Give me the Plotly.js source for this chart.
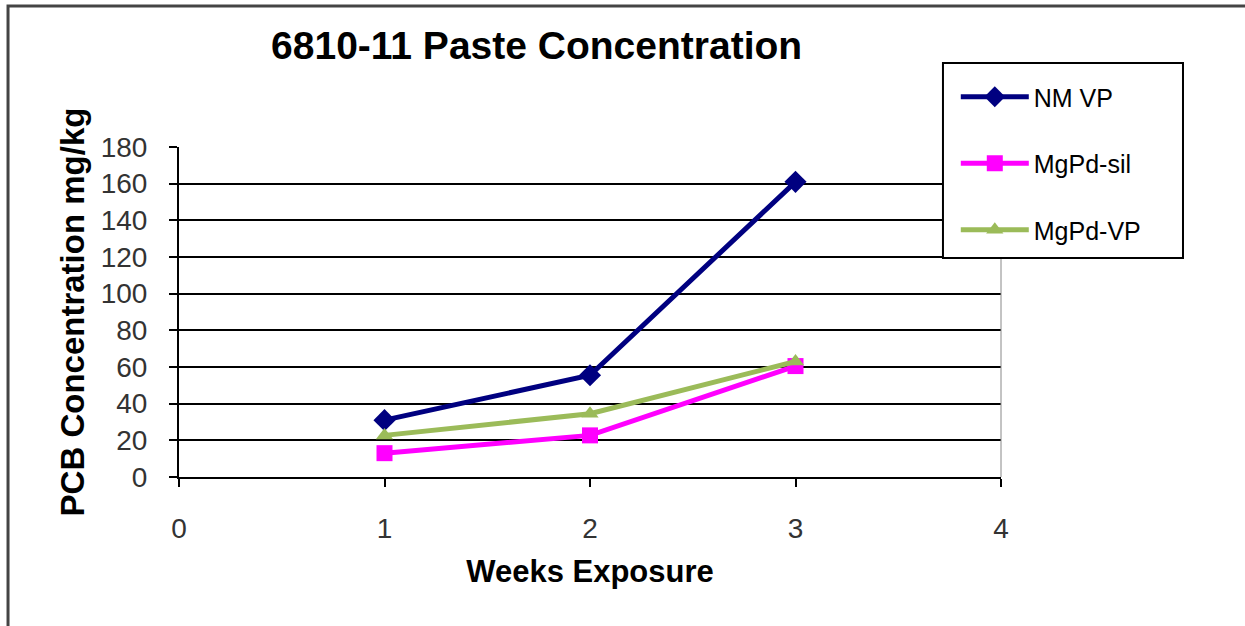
<!DOCTYPE html>
<html>
<head>
<meta charset="utf-8">
<script src="https://cdn.plot.ly/plotly-3.0.1.min.js"></script>
<style>
html,body{margin:0;padding:0;background:#fff;}
#chart{width:1245px;height:626px;}
</style>
</head>
<body>
<div id="chart"></div>
<script>
const weeks = [1, 2, 3];
const nmVP = [31, 55.5, 161];
const mgPdSil = [13, 22.7, 60.5];
const mgPdVP = [22.7, 34.5, 63];
const seriesNames = ["NM VP", "MgPd-sil", "MgPd-VP"];
const xTicks = [0, 1, 2, 3, 4];
const yTicks = [0, 20, 40, 60, 80, 100, 120, 140, 160, 180];

const traces = [
  {x: weeks, y: nmVP, name: seriesNames[0], mode: 'lines+markers', legendgroup: 'a',
   line: {color: '#000080', width: 5}, marker: {symbol: 'diamond', size: 17, color: '#000080'}},
  {x: weeks, y: mgPdSil, name: seriesNames[1], mode: 'lines+markers', legendgroup: 'b',
   line: {color: '#ff00ff', width: 5}, marker: {symbol: 'square', size: 16, color: '#ff00ff'}},
  {x: weeks, y: mgPdVP, name: seriesNames[2], mode: 'lines+markers', legendgroup: 'c',
   line: {color: '#9bbb59', width: 5}, marker: {symbol: 'triangle-up', size: 15, color: '#9bbb59'}}
];

const layout = {
  width: 1245, height: 626,
  margin: {l: 179, r: 244, t: 147, b: 149},
  paper_bgcolor: '#fff', plot_bgcolor: '#fff',
  font: {family: 'Arial, "Liberation Sans", sans-serif', color: '#000'},
  title: {text: '<b>6810-11 Paste Concentration</b>', font: {size: 39, color: '#000'},
          x: 0.431, xref: 'container', xanchor: 'center', y: 0.928, yref: 'container', yanchor: 'middle'},
  xaxis: {
    range: [0, 4], tickvals: xTicks, ticktext: xTicks.map(String),
    showgrid: false, zeroline: false, showline: true, linecolor: '#000', linewidth: 2,
    ticks: 'outside', ticklen: 8, tickwidth: 2, tickcolor: '#000',
    tickfont: {size: 28, color: '#333'}, ticklabelstandoff: 17,
    title: {text: '<b>Weeks Exposure</b>', font: {size: 31, color: '#000'}, standoff: 18}
  },
  yaxis: {
    range: [0, 180], tickvals: yTicks, ticktext: yTicks.map(String),
    showgrid: true, gridcolor: '#000', gridwidth: 2, zeroline: false,
    showline: true, linecolor: '#000', linewidth: 2,
    ticks: 'outside', ticklen: 8, tickwidth: 2, tickcolor: '#000',
    tickfont: {size: 28, color: '#333'}, ticklabelstandoff: 16,
    title: {text: '<b>PCB Concentration mg/kg</b>', font: {size: 33, color: '#000'}, standoff: 6}
  },
  legend: {
    x: 0.945, y: 1.2212, xanchor: 'left', yanchor: 'top',
    bgcolor: 'rgba(0,0,0,0)', borderwidth: 0,
    font: {size: 25, color: '#000'}, itemwidth: 68, tracegroupgap: 31,
    traceorder: 'grouped'
  },
  shapes: [
    {type: 'line', xref: 'paper', yref: 'paper', x0: 1, x1: 1, y0: 0, y1: 1, line: {color: '#888', width: 1}},
    {type: 'rect', xref: 'paper', yref: 'paper', x0: -0.208, x1: 1.4, y0: -0.6, y1: 1.427,
     line: {color: '#444', width: 3}, layer: 'below'},
    {type: 'rect', xref: 'paper', yref: 'paper', x0: 0.9294, x1: 1.2214, y0: 0.6636, y1: 1.2545,
     fillcolor: '#fff', line: {color: '#000', width: 2}, layer: 'above'}
  ],
  showlegend: true
};

Plotly.newPlot('chart', traces, layout, {displayModeBar: false, staticPlot: true});
</script>
</body>
</html>
